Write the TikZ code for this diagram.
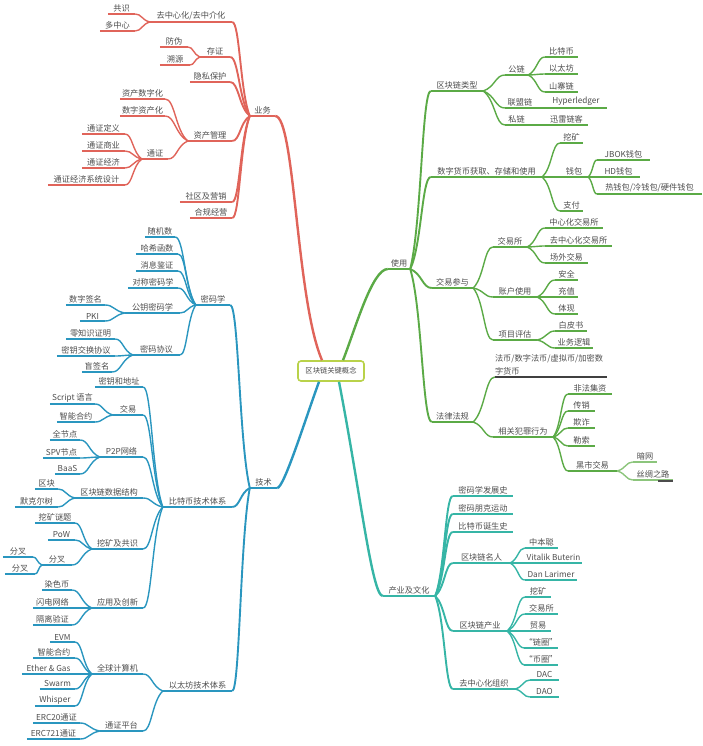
\documentclass[tikz,border=0pt]{standalone}
\usepackage{fontspec}
\setmainfont{Noto Sans CJK SC}
\usetikzlibrary{calc}
\definecolor{redc}{HTML}{E0645A}
\definecolor{greenc}{HTML}{5BAA46}
\definecolor{lightg}{HTML}{8CC57C}
\definecolor{bluec}{HTML}{2A96BF}
\definecolor{tealc}{HTML}{36B5A6}
\definecolor{boxc}{HTML}{B9D24A}
\definecolor{txtc}{HTML}{4D4D4D}
\tikzset{
  lab/.style={anchor=south, inner xsep=0pt, inner ysep=1.8pt, text=txtc,
    font=\fontsize{8.2}{10}\selectfont},
  L1/.style={line width=2.4pt},
  L2/.style={line width=1.9pt},
  L3/.style={line width=1.4pt},
  rootbox/.style={draw=boxc, line width=1.6pt, fill=white, rounded corners=3pt,
    minimum width=66pt, minimum height=20pt, inner sep=0pt, text=txtc,
    font=\fontsize{7.3}{9}\selectfont}
}
% node with underline: name, xl, xr, y, text, colour, level
\newcommand\mm[7]{\node[lab, minimum width={#3pt-#2pt}] (#1) at ({(#2+#3)/2},#4) {#5};
  \draw[#6,#7] (#1.south west) -- (#1.south east);}
% curved connector: style, from, to
\newcommand\cn[3]{\draw[#1] let \p1=(#2), \p2=(#3) in (\p1) .. controls ({\x1+0.55*(\x2-\x1)},{\y1+0.25*(\y2-\y1)}) and ({\x1+0.57*(\x2-\x1)},{\y2}) .. (\p2);}
\begin{document}
\begin{tikzpicture}[x=1pt,y=-1pt]
\useasboundingbox (0,0) rectangle (702,746);
\node[rootbox] (root) at (331,371) {区块链关键概念};

% ---------------- 业务 (red)
\mm{yw}{250}{275}{116}{业务}{redc}{L1}
\mm{r1}{150}{232}{22}{去中心化/去中介化}{redc}{L2}
\mm{r11}{108}{135}{14}{共识}{redc}{L3}
\mm{r12}{100}{135}{31}{多中心}{redc}{L3}
\mm{r2}{200}{230}{57}{存证}{redc}{L2}
\mm{r21}{160}{188}{47}{防伪}{redc}{L3}
\mm{r22}{160}{190}{65}{溯源}{redc}{L3}
\mm{r3}{190}{230}{82}{隐私保护}{redc}{L2}
\mm{r4}{188}{232}{141}{资产管理}{redc}{L2}
\mm{r41}{120}{165}{99}{资产数字化}{redc}{L3}
\mm{r42}{120}{165}{116}{数字资产化}{redc}{L3}
\mm{r43}{142}{168}{159}{通证}{redc}{L3}
\mm{r431}{82}{125}{134}{通证定义}{redc}{L3}
\mm{r432}{82}{125}{151}{通证商业}{redc}{L3}
\mm{r433}{82}{125}{168}{通证经济}{redc}{L3}
\mm{r434}{48}{125}{185}{通证经济系统设计}{redc}{L3}
\mm{r5}{180}{232}{202}{社区及营销}{redc}{L2}
\mm{r6}{190}{232}{218}{合规经营}{redc}{L2}
\draw[redc,L1] ([xshift=-9pt]root.north) .. controls (296,300) and (295,116) .. (yw.south east);
\foreach \c in {r1,r2,r3,r4,r5,r6} {\cn{redc,L2}{yw.south west}{\c.south east}}
\foreach \c in {r11,r12} {\cn{redc,L3}{r1.south west}{\c.south east}}
\foreach \c in {r21,r22} {\cn{redc,L3}{r2.south west}{\c.south east}}
\foreach \c in {r41,r42,r43} {\cn{redc,L3}{r4.south west}{\c.south east}}
\foreach \c in {r431,r432,r433,r434} {\cn{redc,L3}{r43.south west}{\c.south east}}

% ---------------- 技术 (blue)
\mm{js}{250}{277}{488}{技术}{bluec}{L1}
\mm{b1}{196}{230}{305}{密码学}{bluec}{L2}
\mm{b11}{145}{175}{237}{随机数}{bluec}{L3}
\mm{b12}{136}{178}{254}{哈希函数}{bluec}{L3}
\mm{b13}{136}{178}{271}{消息鉴证}{bluec}{L3}
\mm{b14}{128}{178}{288}{对称密码学}{bluec}{L3}
\mm{b15}{125}{180}{313}{公钥密码学}{bluec}{L3}
\mm{b151}{66}{105}{305}{数字签名}{bluec}{L3}
\mm{b152}{80}{105}{321}{PKI}{bluec}{L3}
\mm{b16}{133}{180}{355}{密码协议}{bluec}{L3}
\mm{b161}{66}{115}{339}{零知识证明}{bluec}{L3}
\mm{b162}{57}{115}{356}{密钥交换协议}{bluec}{L3}
\mm{b163}{82}{112}{372}{盲签名}{bluec}{L3}
\mm{b2}{163}{232}{507}{比特币技术体系}{bluec}{L2}
\mm{b21}{95}{143}{387}{密钥和地址}{bluec}{L3}
\mm{b22}{113}{143}{415}{交易}{bluec}{L3}
\mm{b221}{50}{95}{404}{Script 语言}{bluec}{L3}
\mm{b222}{57}{95}{422}{智能合约}{bluec}{L3}
\mm{b23}{100}{143}{457}{P2P网络}{bluec}{L3}
\mm{b231}{50}{80}{440}{全节点}{bluec}{L3}
\mm{b232}{43}{80}{458}{SPV节点}{bluec}{L3}
\mm{b233}{55}{80}{474}{BaaS}{bluec}{L3}
\mm{b24}{75}{143}{498}{区块链数据结构}{bluec}{L3}
\mm{b241}{35}{58}{489}{区块}{bluec}{L3}
\mm{b242}{15}{58}{507}{默克尔树}{bluec}{L3}
\mm{b25}{92}{143}{549}{挖矿及共识}{bluec}{L3}
\mm{b251}{35}{75}{523}{挖矿谜题}{bluec}{L3}
\mm{b252}{48}{75}{540}{PoW}{bluec}{L3}
\mm{b253}{42}{72}{565}{分叉}{bluec}{L3}
\mm{b2531}{3}{33}{557}{分叉}{bluec}{L3}
\mm{b2532}{5}{35}{574}{分叉}{bluec}{L3}
\mm{b26}{92}{143}{608}{应用及创新}{bluec}{L3}
\mm{b261}{42}{72}{590}{染色币}{bluec}{L3}
\mm{b262}{33}{72}{608}{闪电网络}{bluec}{L3}
\mm{b263}{33}{72}{625}{隔离验证}{bluec}{L3}
\mm{b3}{163}{232}{691}{以太坊技术体系}{bluec}{L2}
\mm{b31}{92}{143}{674}{全球计算机}{bluec}{L3}
\mm{b311}{50}{75}{642}{EVM}{bluec}{L3}
\mm{b312}{33}{75}{658}{智能合约}{bluec}{L3}
\mm{b313}{22}{75}{674}{Ether \& Gas}{bluec}{L3}
\mm{b314}{40}{75}{689}{Swarm}{bluec}{L3}
\mm{b315}{35}{75}{706}{Whisper}{bluec}{L3}
\mm{b32}{100}{143}{731}{通证平台}{bluec}{L3}
\mm{b321}{33}{80}{723}{ERC20通证}{bluec}{L3}
\mm{b322}{27}{80}{739}{ERC721通证}{bluec}{L3}
\draw[bluec,L1] ([xshift=-12pt]root.south) .. controls (305,420) and (284,488) .. (js.south east);
\foreach \c in {b1,b2,b3} {\cn{bluec,L2}{js.south west}{\c.south east}}
\foreach \c in {b11,b12,b13,b14,b15,b16} {\cn{bluec,L3}{b1.south west}{\c.south east}}
\foreach \c in {b151,b152} {\cn{bluec,L3}{b15.south west}{\c.south east}}
\foreach \c in {b161,b162,b163} {\cn{bluec,L3}{b16.south west}{\c.south east}}
\foreach \c in {b21,b22,b23,b24,b25,b26} {\cn{bluec,L3}{b2.south west}{\c.south east}}
\foreach \c in {b221,b222} {\cn{bluec,L3}{b22.south west}{\c.south east}}
\foreach \c in {b231,b232,b233} {\cn{bluec,L3}{b23.south west}{\c.south east}}
\foreach \c in {b241,b242} {\cn{bluec,L3}{b24.south west}{\c.south east}}
\foreach \c in {b251,b252,b253} {\cn{bluec,L3}{b25.south west}{\c.south east}}
\foreach \c in {b2531,b2532} {\cn{bluec,L3}{b253.south west}{\c.south east}}
\foreach \c in {b261,b262,b263} {\cn{bluec,L3}{b26.south west}{\c.south east}}
\foreach \c in {b31,b32} {\cn{bluec,L3}{b3.south west}{\c.south east}}
\foreach \c in {b311,b312,b313,b314,b315} {\cn{bluec,L3}{b31.south west}{\c.south east}}
\foreach \c in {b321,b322} {\cn{bluec,L3}{b32.south west}{\c.south east}}

% ---------------- 使用 (green)
\mm{sy}{388}{410}{269}{使用}{greenc}{L1}
\mm{g1}{431}{483}{91}{区块链类型}{greenc}{L2}
\mm{g11}{505}{528}{75}{公链}{greenc}{L3}
\mm{g111}{545}{578}{57}{比特币}{greenc}{L3}
\mm{g112}{545}{578}{74}{以太坊}{greenc}{L3}
\mm{g113}{545}{578}{92}{山寨链}{greenc}{L3}
\mm{g12}{505}{535}{108}{联盟链}{greenc}{L3}
\mm{g121}{545}{607}{108}{Hyperledger}{greenc}{L3}
\mm{g13}{505}{528}{125}{私链}{greenc}{L3}
\mm{g131}{545}{588}{125}{迅雷链客}{greenc}{L3}
\mm{g2}{431}{542}{177}{数字货币获取、存储和使用}{greenc}{L2}
\mm{g21}{560}{583}{143}{挖矿}{greenc}{L3}
\mm{g22}{560}{588}{177}{钱包}{greenc}{L3}
\mm{g221}{597}{650}{160}{JBOK钱包}{greenc}{L3}
\mm{g222}{597}{640}{177}{HD钱包}{greenc}{L3}
\mm{g223}{597}{702}{194}{热钱包/冷钱包/硬件钱包}{greenc}{L3}
\mm{g23}{560}{583}{211}{支付}{greenc}{L3}
\mm{g3}{432}{473}{288}{交易参与}{greenc}{L2}
\mm{g31}{493}{527}{247}{交易所}{greenc}{L3}
\mm{g311}{545}{603}{228}{中心化交易所}{greenc}{L3}
\mm{g312}{545}{612}{246}{去中心化交易所}{greenc}{L3}
\mm{g313}{545}{588}{263}{场外交易}{greenc}{L3}
\mm{g32}{493}{537}{297}{账户使用}{greenc}{L3}
\mm{g321}{555}{578}{280}{安全}{greenc}{L3}
\mm{g322}{555}{578}{297}{充值}{greenc}{L3}
\mm{g323}{555}{578}{314}{体现}{greenc}{L3}
\mm{g33}{493}{537}{340}{项目评估}{greenc}{L3}
\mm{g331}{555}{587}{331}{白皮书}{greenc}{L3}
\mm{g332}{555}{593}{348}{业务逻辑}{greenc}{L3}
\mm{g4}{432}{473}{422}{法律法规}{greenc}{L2}
\node[lab, text width=112pt, align=left, font=\fontsize{8.2}{12.5}\selectfont] (g41) at (551,377) {法币/数字法币/虚拟币/加密数\\字货币};
\draw[black!75,L3] (g41.south west) -- (g41.south east);
\mm{g42}{493}{553}{437}{相关犯罪行为}{greenc}{L3}
\mm{g421}{568}{612}{394}{非法集资}{greenc}{L3}
\mm{g422}{568}{595}{411}{传销}{greenc}{L3}
\mm{g423}{568}{595}{428}{欺诈}{greenc}{L3}
\mm{g424}{568}{595}{446}{勒索}{greenc}{L3}
\mm{g425}{568}{617}{471}{黑市交易}{greenc}{L3}
\mm{g4251}{633}{657}{462}{暗网}{lightg}{L3}
\mm{g4252}{633}{673}{480}{丝绸之路}{lightg}{L3}
\draw[black!70,line width=1.1pt] ([xshift=-15pt,yshift=-1pt]g4252.south east) -- ([yshift=-1pt]g4252.south east);
\draw[greenc,L1] ([xshift=12pt]root.north) .. controls (355,330) and (372,269) .. (sy.south west);
\foreach \c in {g1,g2,g3,g4} {\cn{greenc,L2}{sy.south east}{\c.south west}}
\foreach \c in {g11,g12,g13} {\cn{greenc,L3}{g1.south east}{\c.south west}}
\foreach \c in {g111,g112,g113} {\cn{greenc,L3}{g11.south east}{\c.south west}}
\cn{greenc,L3}{g12.south east}{g121.south west}
\cn{greenc,L3}{g13.south east}{g131.south west}
\foreach \c in {g21,g22,g23} {\cn{greenc,L3}{g2.south east}{\c.south west}}
\foreach \c in {g221,g222,g223} {\cn{greenc,L3}{g22.south east}{\c.south west}}
\foreach \c in {g31,g32,g33} {\cn{greenc,L3}{g3.south east}{\c.south west}}
\foreach \c in {g311,g312,g313} {\cn{greenc,L3}{g31.south east}{\c.south west}}
\foreach \c in {g321,g322,g323} {\cn{greenc,L3}{g32.south east}{\c.south west}}
\foreach \c in {g331,g332} {\cn{greenc,L3}{g33.south east}{\c.south west}}
\foreach \c in {g41,g42} {\cn{greenc,L3}{g4.south east}{\c.south west}}
\foreach \c in {g421,g422,g423,g424,g425} {\cn{greenc,L3}{g42.south east}{\c.south west}}
\foreach \c in {g4251,g4252} {\cn{lightg,L3}{g425.south east}{\c.south west}}

% ---------------- 产业及文化 (teal)
\mm{cy}{383}{435}{596}{产业及文化}{tealc}{L1}
\mm{t1}{453}{513}{496}{密码学发展史}{tealc}{L2}
\mm{t2}{453}{513}{514}{密码朋克运动}{tealc}{L2}
\mm{t3}{453}{513}{532}{比特币诞生史}{tealc}{L2}
\mm{t4}{453}{510}{563}{区块链名人}{tealc}{L2}
\mm{t41}{525}{558}{548}{中本聪}{tealc}{L3}
\mm{t42}{525}{582}{563}{Vitalik Buterin}{tealc}{L3}
\mm{t43}{525}{577}{580}{Dan Larimer}{tealc}{L3}
\mm{t5}{453}{507}{631}{区块链产业}{tealc}{L2}
\mm{t51}{525}{551}{597}{挖矿}{tealc}{L3}
\mm{t52}{525}{558}{614}{交易所}{tealc}{L3}
\mm{t53}{525}{551}{631}{贸易}{tealc}{L3}
\mm{t54}{525}{557}{648}{“链圈”}{tealc}{L3}
\mm{t55}{525}{557}{665}{“币圈”}{tealc}{L3}
\mm{t6}{453}{515}{689}{去中心化组织}{tealc}{L2}
\mm{t61}{530}{559}{680}{DAC}{tealc}{L3}
\mm{t62}{530}{559}{697}{DAO}{tealc}{L3}
\draw[tealc,L1] ([xshift=8pt]root.south) .. controls (360,490) and (372,596) .. (cy.south west);
\foreach \c in {t1,t2,t3,t4,t5,t6} {\cn{tealc,L2}{cy.south east}{\c.south west}}
\foreach \c in {t41,t42,t43} {\cn{tealc,L3}{t4.south east}{\c.south west}}
\foreach \c in {t51,t52,t53,t54,t55} {\cn{tealc,L3}{t5.south east}{\c.south west}}
\foreach \c in {t61,t62} {\cn{tealc,L3}{t6.south east}{\c.south west}}
\end{tikzpicture}
\end{document}
